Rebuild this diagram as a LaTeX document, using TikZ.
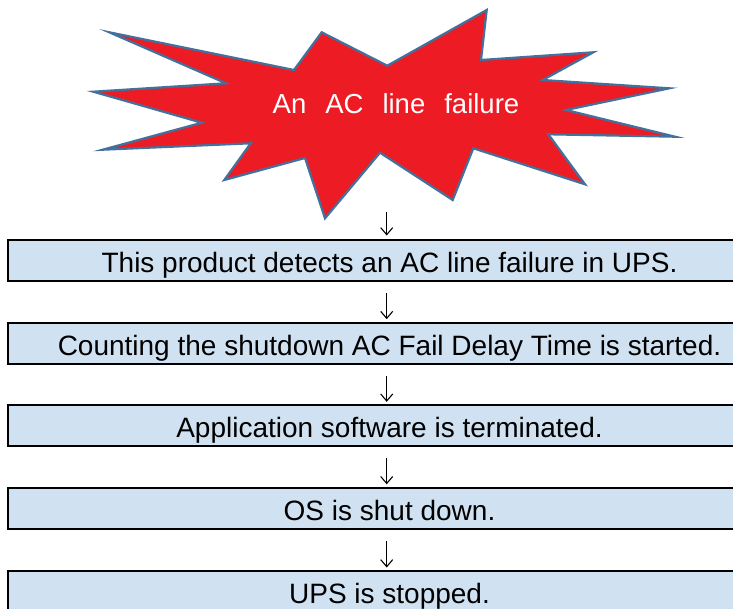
\documentclass[tikz,border=0pt]{standalone}
\usepackage{fontspec}
\setmainfont{Liberation Sans}
\usetikzlibrary{arrows.meta}
\definecolor{burstred}{RGB}{237,28,36}
\definecolor{burstedge}{RGB}{66,113,157}
\definecolor{boxfill}{RGB}{208,226,242}
\begin{document}
\begin{tikzpicture}[x=1pt,y=-1pt,
  burst/.style={draw=burstedge, fill=burstred, line width=2.2pt, line join=miter},
  bursttext/.style={text=white, font=\fontsize{27.5}{32}\selectfont, inner sep=0pt, anchor=base},
  stepbox/.style={draw=black, line width=1.7pt, fill=boxfill, minimum width=763pt,
    minimum height=41pt, inner sep=0pt, outer sep=0pt, text height=24pt, text depth=0pt,
    font=\fontsize{28}{32}\selectfont},
  flowarrow/.style={draw=black, line width=1.1pt,
    -{Straight Barb[length=7pt,width=12pt,line width=1.1pt]},
    shorten <=12pt, shorten >=3.5pt}]
\clip (0,0) rectangle (733,608);
\fill[white] (0,0) rectangle (733,608);
% explosion
\draw[burst] (109.3,32.3) -- (294,70) -- (321.7,32.3) -- (387.3,65.7) -- (486.7,10)
  -- (481,60) -- (593.3,52.3) -- (542.7,80) -- (669.3,88.3) -- (566,110)
  -- (675,136.7) -- (548.3,134.3) -- (585,184.3) -- (473.3,148.3) -- (452.7,200)
  -- (380,152.7) -- (325,218.3) -- (305,158) -- (224.3,180) -- (250.7,143.3)
  -- (102.7,149.7) -- (201.7,122.7) -- (93.3,91.7) -- (226,83.3) -- cycle;
\node[bursttext] (burst) at (396,113) {An\hspace{19pt}AC\hspace{19pt}line\hspace{19pt}failure};
\coordinate (burstfoot) at (386.7,212);
% steps
\node[stepbox] (s1) at (389.5,260.5) {This product detects an AC line failure in UPS.};
\node[stepbox] (s2) at (389.5,343.2) {Counting the shutdown AC Fail Delay Time is started.};
\node[stepbox] (s3) at (389.5,425.8) {Application software is terminated.};
\node[stepbox] (s4) at (389.5,508.3) {OS is shut down.};
\node[stepbox] (s5) at (389.5,591.5) {UPS is stopped.};
% arrows
\draw[flowarrow, shorten <=0pt, shorten >=4.5pt] (burstfoot) -- ([xshift=-2.8pt]s1.north);
\draw[flowarrow] ([xshift=-2.8pt]s1.south) -- ([xshift=-2.8pt]s2.north);
\draw[flowarrow] ([xshift=-2.8pt]s2.south) -- ([xshift=-2.8pt]s3.north);
\draw[flowarrow] ([xshift=-2.8pt]s3.south) -- ([xshift=-2.8pt]s4.north);
\draw[flowarrow] ([xshift=-2.8pt]s4.south) -- ([xshift=-2.8pt]s5.north);
\end{tikzpicture}
\end{document}
